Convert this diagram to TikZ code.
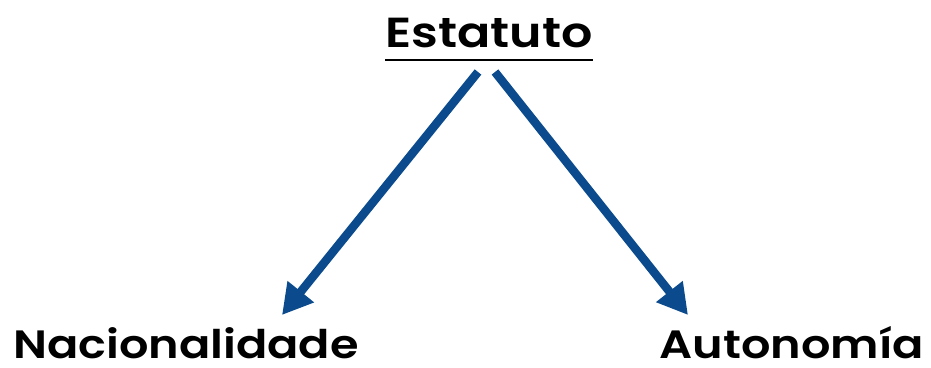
\documentclass[tikz,border=0pt]{standalone}
\usepackage{fontspec}
\setmainfont{Poppins}[BoldFont={Poppins SemiBold},BoldFeatures={FakeStretch=1.17}]
\usetikzlibrary{arrows.meta}
\definecolor{arrowblue}{HTML}{0B4A8C}
\begin{document}
\begin{tikzpicture}[x=1pt,y=-1pt,
  lbl/.style={font=\fontsize{42}{46}\selectfont\bfseries, inner sep=0pt, anchor=base, text depth=0pt},
  sublbl/.style={lbl, font=\fontsize{39.5}{44}\selectfont\bfseries},
  conn/.style={draw=arrowblue, line width=8.5pt, -{Triangle[length=30pt,width=32pt]}}]
\useasboundingbox[fill=white] (0,0) rectangle (931,367);
\node[lbl] (est) at (489,47) {Estatuto};
\draw[line width=2pt] (385,60) -- (593,60);
\node[sublbl] (nac) at (186,358) {Nacionalidade};
\node[sublbl] (aut) at (792,358) {Autonomía};
\coordinate (s1) at (478,72);
\coordinate (e1) at (282,315);
\coordinate (s2) at (495,72);
\coordinate (e2) at (688,315);
\draw[conn] (s1) -- (e1);
\draw[conn] (s2) -- (e2);
\end{tikzpicture}
\end{document}
